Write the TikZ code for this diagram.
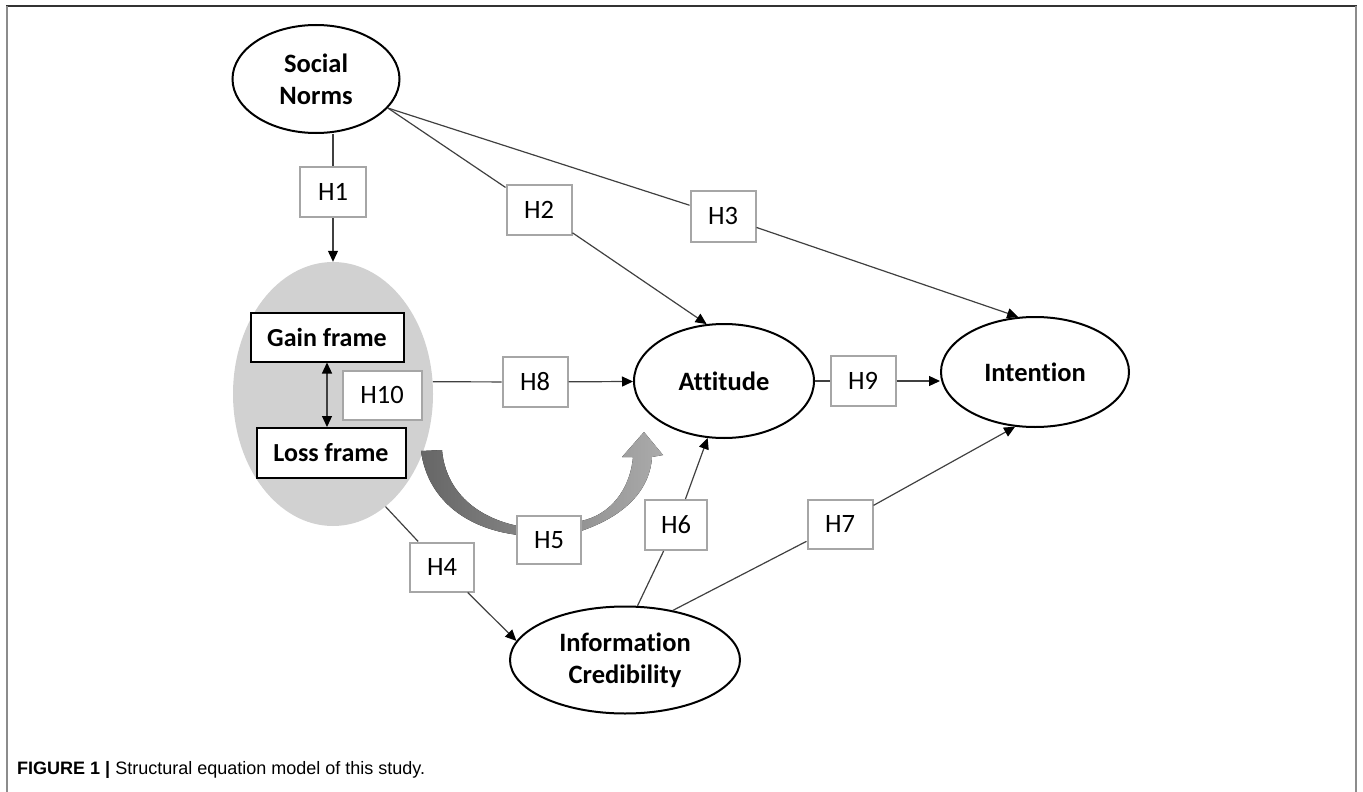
\documentclass[tikz,border=0pt]{standalone}
\usepackage{fontspec}
\setmainfont{Carlito}[Ligatures=NoCommon]
\newfontfamily\capfont{Liberation Sans}
\usetikzlibrary{arrows.meta, positioning, calc, shapes.geometric}

\begin{document}
\begin{tikzpicture}[x=1pt,y=-1pt,>={Triangle[length=11pt,width=10pt,color=black]},
		latent/.style={ellipse,draw,line width=2pt,inner sep=0pt,align=center,
			font=\fontsize{26.5}{32}\selectfont\bfseries},
		hyp/.style={rectangle,draw=black!35,line width=2pt,fill=white,
			minimum width=65pt,minimum height=50pt,inner sep=0pt,font=\fontsize{26.5}{30}\selectfont},
		framebox/.style={rectangle,draw,line width=2pt,fill=white,minimum height=49pt,
			inner sep=0pt,font=\fontsize{26}{30}\selectfont\bfseries},
		link/.style={draw=black!75,line width=1.2pt}]
	
	\useasboundingbox (0,0) rectangle (1363,792);
	\draw[black!80, line width=1.5pt] (6,6) -- (1357,6);
	\draw[black!45, line width=2pt] (7,6) -- (7,792) (1356,6) -- (1356,792);
	
	% framing block
	\node[ellipse, fill=black!18, minimum width=200pt, minimum height=264pt] (frames) at (333,394) {};
	\node[framebox, minimum width=153pt] (GF) at (327,337) {Gain frame};
	\node[framebox, minimum width=149pt, minimum height=50pt] (LF) at (331,453) {Loss frame};
	
	% latent variables
	\node[latent, minimum width=167pt, minimum height=108pt] (SN) at (316,79) {Social\\Norms};
	\node[latent, minimum width=180pt, minimum height=114pt] (Att) at (724,381) {Attitude};
	\node[latent, minimum width=188pt, minimum height=110pt] (Int) at (1035,372) {Intention};
	\node[latent, minimum width=230pt, minimum height=107pt] (IC) at (625,660) {Information\\Credibility};
	
	% hypotheses
	\node[hyp, minimum width=66pt] (H1) at (333,192) {H1};
	\node[hyp] (H2) at (539,210) {H2};
	\node[hyp, minimum height=51pt] (H3) at (723,216) {H3};
	\node[hyp, minimum width=64pt, minimum height=49pt] (H4) at (442,567) {H4};
	\node[hyp, minimum width=62pt] (H6) at (676,525) {H6};
	\node[hyp, minimum height=49pt] (H7) at (840,524) {H7};
	\node[hyp] (H8) at (535,382) {H8};
	\node[hyp] (H9) at (863,381) {H9};
	\node[hyp, minimum width=79pt, minimum height=49pt] (H10) at (382,395) {H10};
	
	\coordinate (snout) at (SN.-22);
	
	\draw[link] (H1.north) -- (H1.north |- SN.south);
	\draw[link,->] (H1.south) -- (H1.south |- frames.north);
	\draw[link] (snout) -- (H2);
	\draw[link,->] (H2) -- (Att.107);
	\draw[link] (snout) -- (H3);
	\draw[link,->] (H3) -- (Int.107);
	\draw[link] (frames.7) -- (H8);
	\draw[link,->] (H8) -- (Att);
	\draw[link] (Att) -- (H9);
	\draw[link,->] (H9) -- (H9 -| Int.west);
	\draw[link,<->] (GF.south) -- (GF.south |- LF.north);
	\draw[link] (frames.-65) -- (H4);
	\draw[link,->] (H4) -- (IC.170);
	\draw[link] (IC.77) -- (H6);
	\draw[link,->] (H6) -- (Att.-106);
	\draw[link] (IC.46) -- (H7);
	\draw[link,->] (H7) -- (Int.-110);
	
	% big curved arrow behind H5
	\fill[left color=black!60, right color=black!33]
		(421,451) .. controls (428,503) and (472,533) .. (530,536)
		-- (581,531) .. controls (625,516) and (650,490) .. (652,457)
		-- (663,455) -- (644,432) -- (622,457) -- (633,457)
		.. controls (630,490) and (610,515) .. (581,521)
		-- (530,528) .. controls (482,522) and (446,495) .. (442,450) -- cycle;
	\node[hyp, minimum width=64pt, minimum height=48pt] (H5) at (549,540) {H5};
	
	\node[anchor=base west, inner sep=0pt, font=\capfont\fontsize{18}{21}\selectfont] (cap)
		at (17,774) {\textbf{FIGURE 1 |} Structural equation model of this study.};
\end{tikzpicture}
\end{document}
